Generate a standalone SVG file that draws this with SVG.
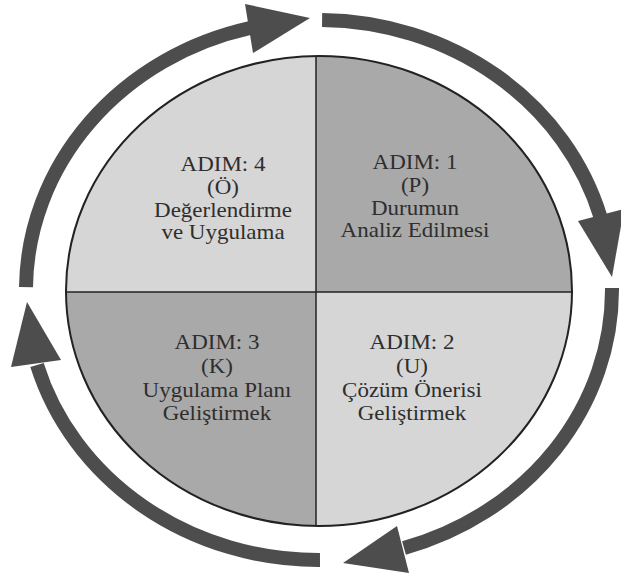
<svg xmlns="http://www.w3.org/2000/svg" width="621" height="575" viewBox="0 0 621 575">
<style>
.arc{fill:none;stroke:#4d4d4d;stroke-width:14}
.head{fill:#4d4d4d}
.light{fill:#d6d6d6}
.dark{fill:#a9a9a9}
.lbl{font-family:"Liberation Serif","Times New Roman",serif;font-size:20px;fill:#2e2e2e;text-anchor:middle}
.div{stroke:#222;stroke-width:1.5}
</style>
<defs>
<clipPath id="ell"><ellipse cx="319" cy="291" rx="253" ry="235"/></clipPath>
</defs>
<rect width="621" height="575" fill="#ffffff"/>
<g id="wheel">
<g clip-path="url(#ell)">
<rect class="light" x="60" y="50" width="256" height="242"/>
<rect class="dark" x="316" y="50" width="262" height="242"/>
<rect class="dark" x="60" y="292" width="256" height="240"/>
<rect class="light" x="316" y="292" width="262" height="240"/>
<line class="div" x1="316" y1="50" x2="316" y2="532"/>
<line class="div" x1="60" y1="292" x2="578" y2="292"/>
</g>
<ellipse cx="319" cy="291" rx="253" ry="235" fill="none" stroke="#222" stroke-width="2"/>
</g>
<g id="step4">
<g transform="translate(223,0) scale(1.15,1)">
<text class="lbl" x="0" y="171">ADIM: 4</text>
<text class="lbl" x="0" y="194">(Ö)</text>
<text class="lbl" x="0" y="217">Değerlendirme</text>
<text class="lbl" x="0" y="239">ve Uygulama</text>
</g>
</g>
<g id="step1">
<g transform="translate(415,0) scale(1.15,1)">
<text class="lbl" x="0" y="169">ADIM: 1</text>
<text class="lbl" x="0" y="192">(P)</text>
<text class="lbl" x="0" y="215">Durumun</text>
<text class="lbl" x="0" y="237">Analiz Edilmesi</text>
</g>
</g>
<g id="step3">
<g transform="translate(217,0) scale(1.15,1)">
<text class="lbl" x="0" y="349">ADIM: 3</text>
<text class="lbl" x="0" y="373">(K)</text>
<text class="lbl" x="0" y="397">Uygulama Planı</text>
<text class="lbl" x="0" y="420">Geliştirmek</text>
</g>
</g>
<g id="step2">
<g transform="translate(412,0) scale(1.15,1)">
<text class="lbl" x="0" y="349">ADIM: 2</text>
<text class="lbl" x="0" y="373">(U)</text>
<text class="lbl" x="0" y="397">Çözüm Önerisi</text>
<text class="lbl" x="0" y="420">Geliştirmek</text>
</g>
</g>
<g id="connectors">
<path class="arc" d="M 26 287.2 A 293 270 0 0 1 250 28"/>
<polygon class="head" points="310,18 245,4 253,53"/>
<path class="arc" d="M 322.1 20 A 293 270 0 0 1 600.5 217"/>
<polygon class="head" points="612,277 578,221 624,209"/>
<path class="arc" d="M 612 288 A 293 270 0 0 1 404 548"/>
<polygon class="head" points="343,563 397,526 409,573"/>
<path class="arc" d="M 320 560 A 293 270 0 0 1 37 365"/>
<polygon class="head" points="27,302 11,367 61,360"/>
</g>
</svg>
